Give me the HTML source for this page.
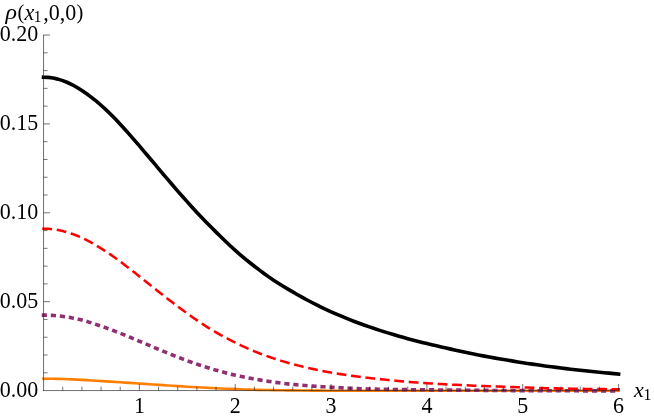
<!DOCTYPE html>
<html><head><meta charset="utf-8"><title>plot</title><style>
html,body{margin:0;padding:0;background:#fff;overflow:hidden}
svg{display:block}
text{font-family:"Liberation Serif",serif;font-size:22px;fill:#000}
</style></head><body>
<svg width="654" height="418" viewBox="0 0 654 418">
<rect width="654" height="418" fill="#fff"/>
<g fill="none" stroke-linecap="square" stroke-linejoin="round">
<path d="M43.56,378.68 L48.35,378.70 L53.14,378.76 L57.94,378.87 L62.73,379.01 L67.52,379.19 L72.31,379.39 L77.10,379.62 L81.90,379.88 L86.69,380.14 L91.48,380.43 L96.27,380.72 L101.06,381.02 L105.86,381.33 L110.65,381.64 L115.44,381.96 L120.23,382.28 L125.02,382.60 L129.82,382.92 L134.61,383.24 L139.40,383.57 L144.19,383.89 L148.98,384.21 L153.78,384.53 L158.57,384.85 L163.36,385.16 L168.15,385.48 L172.94,385.79 L177.74,386.09 L182.53,386.39 L187.32,386.68 L192.11,386.97 L196.90,387.25 L201.70,387.52 L206.49,387.78 L211.28,388.03 L216.07,388.27 L220.86,388.49 L225.66,388.71 L230.45,388.91 L235.24,389.10 L240.03,389.28 L244.82,389.44 L249.62,389.59 L254.41,389.73 L259.20,389.85 L263.99,389.96 L268.78,390.06 L273.58,390.15 L278.37,390.23 L283.16,390.30 L287.95,390.36 L292.74,390.42 L297.54,390.47 L302.33,390.52 L307.12,390.57 L311.91,390.60 L316.70,390.64 L321.50,390.67 L326.29,390.69 L331.08,390.71 L335.87,390.73 L340.66,390.73 L345.46,390.74 L350.25,390.75 L355.04,390.75 L359.83,390.75 L364.62,390.76 L369.42,390.76 L374.21,390.76 L379.00,390.76 L383.79,390.77 L388.58,390.77 L393.38,390.77 L398.17,390.77 L402.96,390.77 L407.75,390.77 L412.54,390.77 L417.34,390.78 L422.13,390.78 L426.92,390.78 L431.71,390.78 L436.50,390.78 L441.30,390.78 L446.09,390.78 L450.88,390.78 L455.67,390.78 L460.46,390.79 L465.26,390.79 L470.05,390.79 L474.84,390.79 L479.63,390.79 L484.42,390.79 L489.22,390.79 L494.01,390.79 L498.80,390.79 L503.59,390.79 L508.38,390.79 L513.18,390.79 L517.97,390.79 L522.76,390.80 L527.55,390.80 L532.34,390.80 L537.14,390.80 L541.93,390.80 L546.72,390.80 L551.51,390.80 L556.30,390.80 L561.10,390.80 L565.89,390.80 L570.68,390.80 L575.47,390.80 L580.26,390.80 L585.06,390.80 L589.85,390.80 L594.64,390.80 L599.43,390.80 L604.22,390.80 L609.02,390.80 L613.81,390.80 L618.60,390.80" stroke="#ff7f00" stroke-width="2.6"/>
<path d="M43.56,315.15 L48.35,315.21 L53.14,315.44 L57.94,315.83 L62.73,316.38 L67.52,317.09 L72.31,317.94 L77.10,318.94 L81.90,320.08 L86.69,321.41 L91.48,322.91 L96.27,324.49 L101.06,326.11 L105.86,327.79 L110.65,329.55 L115.44,331.38 L120.23,333.27 L125.02,335.21 L129.82,337.19 L134.61,339.20 L139.40,341.23 L144.19,343.27 L148.98,345.31 L153.78,347.34 L158.57,349.35 L163.36,351.34 L168.15,353.30 L172.94,355.23 L177.74,357.11 L182.53,358.94 L187.32,360.73 L192.11,362.45 L196.90,364.12 L201.70,365.73 L206.49,367.28 L211.28,368.76 L216.07,370.18 L220.86,371.53 L225.66,372.81 L230.45,374.03 L235.24,375.19 L240.03,376.24 L244.82,377.19 L249.62,378.11 L254.41,379.02 L259.20,379.87 L263.99,380.67 L268.78,381.42 L273.58,382.12 L278.37,382.77 L283.16,383.37 L287.95,383.93 L292.74,384.44 L297.54,384.89 L302.33,385.29 L307.12,385.66 L311.91,386.00 L316.70,386.35 L321.50,386.67 L326.29,386.97 L331.08,387.24 L335.87,387.49 L340.66,387.76 L345.46,388.03 L350.25,388.29 L355.04,388.53 L359.83,388.72 L364.62,388.86 L369.42,388.99 L374.21,389.11 L379.00,389.22 L383.79,389.31 L388.58,389.39 L393.38,389.47 L398.17,389.54 L402.96,389.60 L407.75,389.65 L412.54,389.70 L417.34,389.75 L422.13,389.79 L426.92,389.83 L431.71,389.87 L436.50,389.91 L441.30,389.96 L446.09,390.00 L450.88,390.04 L455.67,390.09 L460.46,390.14 L465.26,390.19 L470.05,390.23 L474.84,390.28 L479.63,390.32 L484.42,390.37 L489.22,390.41 L494.01,390.45 L498.80,390.49 L503.59,390.53 L508.38,390.56 L513.18,390.59 L517.97,390.62 L522.76,390.64 L527.55,390.66 L532.34,390.68 L537.14,390.70 L541.93,390.71 L546.72,390.73 L551.51,390.75 L556.30,390.76 L561.10,390.78 L565.89,390.79 L570.68,390.81 L575.47,390.82 L580.26,390.83 L585.06,390.84 L589.85,390.86 L594.64,390.87 L599.43,390.87 L604.22,390.88 L609.02,390.89 L613.81,390.90 L618.60,390.90" stroke="#922f70" stroke-width="3.6" stroke-dasharray="1.6 7.454"/>
<path d="M43.56,228.67 L48.35,228.83 L53.14,229.28 L57.94,230.01 L62.73,231.04 L67.52,232.34 L72.31,233.92 L77.10,235.75 L81.90,237.83 L86.69,240.14 L91.48,242.67 L96.27,245.41 L101.06,248.34 L105.86,251.43 L110.65,254.68 L115.44,258.06 L120.23,261.56 L125.02,265.16 L129.82,268.83 L134.61,272.57 L139.40,276.36 L144.19,280.17 L148.98,284.00 L153.78,287.83 L158.57,291.64 L163.36,295.43 L168.15,299.17 L172.94,302.86 L177.74,306.50 L182.53,310.06 L187.32,313.54 L192.11,316.94 L196.90,320.25 L201.70,323.45 L206.49,326.56 L211.28,329.53 L216.07,332.36 L220.86,335.08 L225.66,337.69 L230.45,340.20 L235.24,342.63 L240.03,344.95 L244.82,347.18 L249.62,349.30 L254.41,351.32 L259.20,353.24 L263.99,355.05 L268.78,356.76 L273.58,358.38 L278.37,359.91 L283.16,361.38 L287.95,362.78 L292.74,364.12 L297.54,365.38 L302.33,366.58 L307.12,367.71 L311.91,368.79 L316.70,369.81 L321.50,370.78 L326.29,371.69 L331.08,372.55 L335.87,373.36 L340.66,374.13 L345.46,374.86 L350.25,375.55 L355.04,376.21 L359.83,376.83 L364.62,377.42 L369.42,377.98 L374.21,378.52 L379.00,379.05 L383.79,379.55 L388.58,380.04 L393.38,380.52 L398.17,380.97 L402.96,381.40 L407.75,381.81 L412.54,382.19 L417.34,382.56 L422.13,382.89 L426.92,383.22 L431.71,383.52 L436.50,383.82 L441.30,384.09 L446.09,384.36 L450.88,384.61 L455.67,384.85 L460.46,385.07 L465.26,385.28 L470.05,385.48 L474.84,385.67 L479.63,385.86 L484.42,386.04 L489.22,386.21 L494.01,386.39 L498.80,386.56 L503.59,386.74 L508.38,386.92 L513.18,387.09 L517.97,387.25 L522.76,387.41 L527.55,387.57 L532.34,387.72 L537.14,387.87 L541.93,388.01 L546.72,388.15 L551.51,388.27 L556.30,388.38 L561.10,388.48 L565.89,388.57 L570.68,388.66 L575.47,388.74 L580.26,388.83 L585.06,388.90 L589.85,388.97 L594.64,389.03 L599.43,389.09 L604.22,389.14 L609.02,389.18 L613.81,389.22 L618.60,389.25" stroke="#ff0000" stroke-width="2.55" stroke-dasharray="7.25 7.255"/>
<path d="M43.56,77.19 L48.35,77.40 L53.14,78.05 L57.94,79.12 L62.73,80.60 L67.52,82.50 L72.31,84.78 L77.10,87.45 L81.90,90.47 L86.69,93.76 L91.48,97.32 L96.27,101.14 L101.06,105.25 L105.86,109.63 L110.65,114.22 L115.44,119.10 L120.23,124.22 L125.02,129.48 L129.82,134.88 L134.61,140.37 L139.40,145.95 L144.19,151.58 L148.98,157.25 L153.78,162.94 L158.57,168.63 L163.36,174.30 L168.15,179.94 L172.94,185.54 L177.74,191.07 L182.53,196.53 L187.32,201.92 L192.11,207.21 L196.90,212.41 L201.70,217.50 L206.49,222.48 L211.28,227.35 L216.07,232.11 L220.86,236.81 L225.66,241.45 L230.45,245.98 L235.24,250.36 L240.03,254.56 L244.82,258.58 L249.62,262.48 L254.41,266.25 L259.20,269.91 L263.99,273.46 L268.78,276.88 L273.58,280.17 L278.37,283.27 L283.16,286.24 L287.95,289.10 L292.74,291.91 L297.54,294.69 L302.33,297.39 L307.12,300.00 L311.91,302.52 L316.70,304.96 L321.50,307.31 L326.29,309.58 L331.08,311.78 L335.87,313.90 L340.66,315.95 L345.46,317.94 L350.25,319.85 L355.04,321.71 L359.83,323.50 L364.62,325.24 L369.42,326.92 L374.21,328.55 L379.00,330.13 L383.79,331.66 L388.58,333.14 L393.38,334.58 L398.17,335.98 L402.96,337.34 L407.75,338.66 L412.54,339.94 L417.34,341.18 L422.13,342.40 L426.92,343.58 L431.71,344.73 L436.50,345.85 L441.30,346.94 L446.09,348.03 L450.88,349.12 L455.67,350.20 L460.46,351.27 L465.26,352.31 L470.05,353.32 L474.84,354.30 L479.63,355.23 L484.42,356.12 L489.22,357.00 L494.01,357.86 L498.80,358.70 L503.59,359.53 L508.38,360.34 L513.18,361.14 L517.97,361.92 L522.76,362.69 L527.55,363.43 L532.34,364.15 L537.14,364.84 L541.93,365.51 L546.72,366.16 L551.51,366.79 L556.30,367.41 L561.10,368.03 L565.89,368.61 L570.68,369.17 L575.47,369.72 L580.26,370.25 L585.06,370.76 L589.85,371.26 L594.64,371.74 L599.43,372.22 L604.22,372.69 L609.02,373.15 L613.81,373.61 L618.60,374.05" stroke="#000" stroke-width="3.6"/>
</g>
<g stroke="#000" stroke-width="0.55" fill="none">
<line x1="43.56" x2="47.56" y1="372.77" y2="372.77"/>
<line x1="43.56" x2="47.56" y1="355.00" y2="355.00"/>
<line x1="43.56" x2="47.56" y1="337.22" y2="337.22"/>
<line x1="43.56" x2="47.56" y1="319.45" y2="319.45"/>
<line x1="43.56" x2="49.96" y1="301.67" y2="301.67"/>
<line x1="43.56" x2="47.56" y1="283.90" y2="283.90"/>
<line x1="43.56" x2="47.56" y1="266.12" y2="266.12"/>
<line x1="43.56" x2="47.56" y1="248.35" y2="248.35"/>
<line x1="43.56" x2="47.56" y1="230.57" y2="230.57"/>
<line x1="43.56" x2="49.96" y1="212.80" y2="212.80"/>
<line x1="43.56" x2="47.56" y1="195.02" y2="195.02"/>
<line x1="43.56" x2="47.56" y1="177.24" y2="177.24"/>
<line x1="43.56" x2="47.56" y1="159.47" y2="159.47"/>
<line x1="43.56" x2="47.56" y1="141.69" y2="141.69"/>
<line x1="43.56" x2="49.96" y1="123.92" y2="123.92"/>
<line x1="43.56" x2="47.56" y1="106.14" y2="106.14"/>
<line x1="43.56" x2="47.56" y1="88.37" y2="88.37"/>
<line x1="43.56" x2="47.56" y1="70.59" y2="70.59"/>
<line x1="43.56" x2="47.56" y1="52.82" y2="52.82"/>
<line x1="43.56" x2="49.96" y1="35.04" y2="35.04"/>
<line x1="62.73" x2="62.73" y1="390.55" y2="386.65"/>
<line x1="81.90" x2="81.90" y1="390.55" y2="386.65"/>
<line x1="101.06" x2="101.06" y1="390.55" y2="386.65"/>
<line x1="120.23" x2="120.23" y1="390.55" y2="386.65"/>
<line x1="139.40" x2="139.40" y1="390.55" y2="384.05"/>
<line x1="158.57" x2="158.57" y1="390.55" y2="386.65"/>
<line x1="177.74" x2="177.74" y1="390.55" y2="386.65"/>
<line x1="196.90" x2="196.90" y1="390.55" y2="386.65"/>
<line x1="216.07" x2="216.07" y1="390.55" y2="386.65"/>
<line x1="235.24" x2="235.24" y1="390.55" y2="384.05"/>
<line x1="254.41" x2="254.41" y1="390.55" y2="386.65"/>
<line x1="273.58" x2="273.58" y1="390.55" y2="386.65"/>
<line x1="292.74" x2="292.74" y1="390.55" y2="386.65"/>
<line x1="311.91" x2="311.91" y1="390.55" y2="386.65"/>
<line x1="331.08" x2="331.08" y1="390.55" y2="384.05"/>
<line x1="350.25" x2="350.25" y1="390.55" y2="386.65"/>
<line x1="369.42" x2="369.42" y1="390.55" y2="386.65"/>
<line x1="388.58" x2="388.58" y1="390.55" y2="386.65"/>
<line x1="407.75" x2="407.75" y1="390.55" y2="386.65"/>
<line x1="426.92" x2="426.92" y1="390.55" y2="384.05"/>
<line x1="446.09" x2="446.09" y1="390.55" y2="386.65"/>
<line x1="465.26" x2="465.26" y1="390.55" y2="386.65"/>
<line x1="484.42" x2="484.42" y1="390.55" y2="386.65"/>
<line x1="503.59" x2="503.59" y1="390.55" y2="386.65"/>
<line x1="522.76" x2="522.76" y1="390.55" y2="384.05"/>
<line x1="541.93" x2="541.93" y1="390.55" y2="386.65"/>
<line x1="561.10" x2="561.10" y1="390.55" y2="386.65"/>
<line x1="580.26" x2="580.26" y1="390.55" y2="386.65"/>
<line x1="599.43" x2="599.43" y1="390.55" y2="386.65"/>
<line x1="618.60" x2="618.60" y1="390.55" y2="384.05"/>
</g>
<g stroke="#222" stroke-width="0.65" fill="none">
<line x1="43.56" x2="43.56" y1="34.74" y2="390.95"/>
<line x1="43.160000000000004" x2="618.9" y1="390.55" y2="390.55"/>
</g>
<g opacity="0.999">
<text transform="translate(38.2,396.70) scale(1,1.075)" text-anchor="end">0.00</text>
<text transform="translate(38.2,307.82) scale(1,1.075)" text-anchor="end">0.05</text>
<text transform="translate(38.2,218.95) scale(1,1.075)" text-anchor="end">0.10</text>
<text transform="translate(38.2,130.07) scale(1,1.075)" text-anchor="end">0.15</text>
<text transform="translate(38.2,41.19) scale(1,1.075)" text-anchor="end">0.20</text>
<text transform="translate(139.40,413.0) scale(1,1.075)" text-anchor="middle">1</text>
<text transform="translate(235.24,413.0) scale(1,1.075)" text-anchor="middle">2</text>
<text transform="translate(331.08,413.0) scale(1,1.075)" text-anchor="middle">3</text>
<text transform="translate(426.92,413.0) scale(1,1.075)" text-anchor="middle">4</text>
<text transform="translate(522.76,413.0) scale(1,1.075)" text-anchor="middle">5</text>
<text transform="translate(618.60,413.0) scale(1,1.075)" text-anchor="middle">6</text>
<text transform="translate(5.6,19.4) scale(1.09,1.0)" font-style="italic">ρ</text>
<text transform="translate(0,19.5) scale(1,1.06)"><tspan x="17.6" dy="-0.8" font-size="20.5">(</tspan><tspan dx="0.1" dy="0.8" font-style="italic">x</tspan><tspan dx="-0.6" font-size="15.4" dy="2.6">1</tspan><tspan dx="1.8" dy="-2.6">,0,0</tspan><tspan dx="0.4" dy="-0.8" font-size="20.5">)</tspan></text>
<text transform="translate(0,396.9)"><tspan x="634" font-style="italic">x</tspan><tspan dx="-0.2" font-size="15.8" dy="3.1">1</tspan></text>
</g>
</svg>
</body></html>
